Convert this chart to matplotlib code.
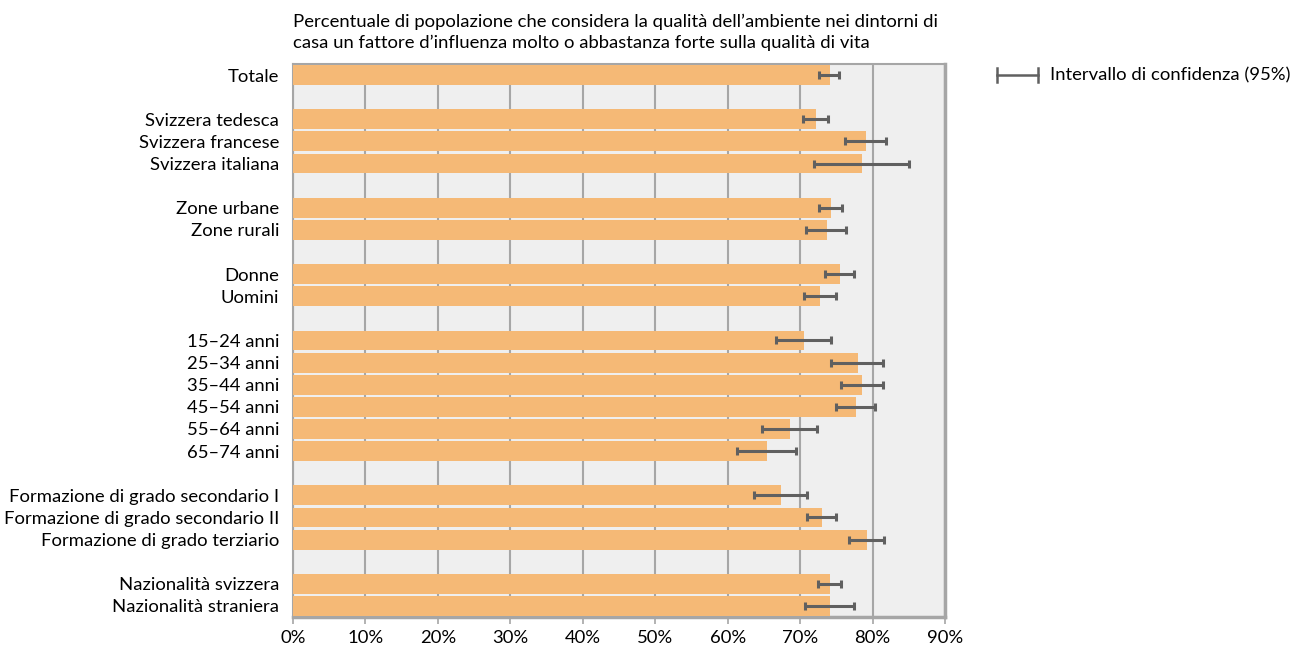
import numpy as np
import matplotlib.pyplot as plt
from matplotlib.lines import Line2D

plt.rcParams['font.family'] = ['Lato', 'DejaVu Sans']

# categories with their slot on the y axis (blank slots separate the groups)
labels = ["Totale",
          "Svizzera tedesca", "Svizzera francese", "Svizzera italiana",
          "Zone urbane", "Zone rurali",
          "Donne", "Uomini",
          "15–24 anni", "25–34 anni", "35–44 anni", "45–54 anni", "55–64 anni", "65–74 anni",
          "Formazione di grado secondario I", "Formazione di grado secondario II",
          "Formazione di grado terziario",
          "Nazionalità svizzera", "Nazionalità straniera"]
slots = [0, 2, 3, 4, 6, 7, 9, 10, 12, 13, 14, 15, 16, 17, 19, 20, 21, 23, 24]

values = [74.1, 72.2, 79.1, 78.5, 74.3, 73.7, 75.5, 72.7,
          70.5, 78.0, 78.5, 77.7, 68.6, 65.4, 67.4, 73.0, 79.2, 74.1, 74.1]
ci_low = [72.6, 70.4, 76.2, 71.9, 72.6, 70.8, 73.5, 70.6,
          66.7, 74.3, 75.6, 74.9, 64.7, 61.3, 63.6, 70.9, 76.8, 72.5, 70.7]
ci_high = [75.4, 73.8, 81.8, 85.1, 75.8, 76.4, 77.4, 74.9,
           74.3, 81.5, 81.5, 80.3, 72.3, 69.5, 71.0, 75.0, 81.6, 75.6, 77.5]

ticks = [0, 10, 20, 30, 40, 50, 60, 70, 80, 90]

bar_col = '#f5b976'
err_col = '#606060'
grid_col = '#a6a6a6'
fs = 13.3

fig = plt.figure(figsize=(13.02, 6.49), dpi=100)
ax = fig.add_axes([0.2250, 0.0493, 0.5008, 0.8521])
ax.set_facecolor('#efefef')

ax.barh(slots, values, height=0.9, color=bar_col, zorder=3)

vals = np.array(values)
xerr = [vals - np.array(ci_low), np.array(ci_high) - vals]
ax.errorbar(values, slots, xerr=xerr, fmt='none', ecolor=err_col,
            elinewidth=2.2, capsize=3, capthick=2.2, zorder=4)

ax.set_xlim(0, 90)
ax.set_ylim(24.5, -0.5)
ax.set_xticks(ticks)
ax.set_xticklabels([f"{t}%" for t in ticks], fontsize=fs)
ax.set_yticks(slots)
ax.set_yticklabels(labels, fontsize=fs)
ax.tick_params(axis='y', length=0, pad=10)
ax.tick_params(axis='x', length=5, width=1.2, color=grid_col, pad=4)

ax.xaxis.grid(True, color=grid_col, linewidth=1.5, zorder=1)
ax.set_axisbelow(True)
for s in ax.spines.values():
    s.set_color(grid_col)
    s.set_linewidth(1.5)
ax.spines['bottom'].set_linewidth(2.5)
ax.spines['right'].set_linewidth(2.5)

fig.text(0.2250, 1 - 32 / 649,
         "Percentuale di popolazione che considera la qualità dell’ambiente nei dintorni di\n"
         "casa un fattore d’influenza molto o abbastanza forte sulla qualità di vita",
         ha='left', va='center', fontsize=fs, linespacing=1.35)

# legend sample for the confidence interval
y_leg = 1 - 75 / 649
fig.add_artist(Line2D([997 / 1302, 1038 / 1302], [y_leg, y_leg], color=err_col, linewidth=1.8))
for xp in (997, 1038):
    fig.add_artist(Line2D([xp / 1302, xp / 1302], [y_leg - 7 / 649, y_leg + 7 / 649],
                          color=err_col, linewidth=1.8))
fig.text(1050 / 1302, y_leg, "Intervallo di confidenza (95%)", ha='left', va='center', fontsize=fs)

fig.savefig('out.png', dpi=100)
